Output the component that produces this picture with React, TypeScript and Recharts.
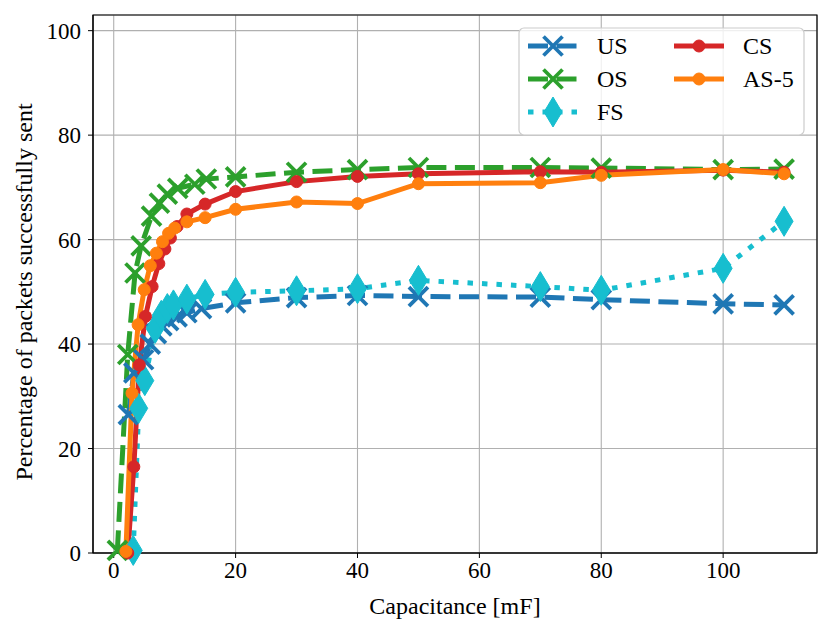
import { CartesianGrid, Line, LineChart, ReferenceArea, XAxis, YAxis } from "recharts";

const FONT = "Liberation Serif, serif";

const xTicks = [0, 20, 40, 60, 80, 100];
const yTicks = [0, 20, 40, 60, 80, 100];

// US
const usX = [2.4, 3.3, 4.9, 6, 7, 7.9, 9, 10.4, 12, 14.4, 20, 30, 40, 50, 70, 80, 100, 110];
const usY = [26.5, 34.5, 37, 40, 42, 43.5, 44.5, 45.2, 46, 46.8, 47.9, 48.9, 49.3, 49.1, 49.0, 48.5, 47.7, 47.5];

// OS
const osX = [0.6, 2.3, 3.5, 4.5, 6.2, 7.5, 8.8, 10.5, 13.3, 15.2, 20, 30, 40, 50, 70, 80, 100, 110];
const osY = [0.5, 38, 53.6, 58.8, 64.5, 67, 68.7, 69.8, 70.6, 71.6, 72, 72.9, 73.4, 73.8, 73.8, 73.7, 73.4, 73.5];

// FS
const fsX = [3.2, 4.1, 5.1, 6.8, 7.8, 8.8, 9.8, 12, 15, 20, 30, 40, 50, 70, 80, 100, 110];
const fsY = [0.5, 27.7, 33, 43, 45.5, 46.8, 47.5, 48.6, 49.5, 49.9, 50.2, 50.6, 52.2, 51.0, 50.3, 54.5, 63.5];

// CS
const csX = [2.3, 3.3, 4.2, 5.2, 6.3, 7.4, 8.4, 9.3, 10.4, 12, 15, 20, 30, 40, 50, 70, 80, 100, 110];
const csY = [0, 16.5, 36, 45.3, 51, 55.4, 58.2, 60.3, 62.5, 64.9, 66.8, 69.2, 71.1, 72.1, 72.6, 73.0, 72.9, 73.3, 72.9];

// AS-5
const asX = [2, 3, 4, 5, 6, 7, 8, 9, 10, 12, 15, 20, 30, 40, 50, 70, 80, 100, 110];
const asY = [0.3, 30.6, 43.7, 50.4, 55, 57.4, 59.6, 61.2, 62.2, 63.4, 64.2, 65.8, 67.2, 66.9, 70.7, 70.9, 72.3, 73.4, 72.6];

const toPoints = (xs: number[], ys: number[]) => xs.map((x, i) => ({ x, y: ys[i] }));

type MarkerKind = "x" | "d" | "o";

const XMark = ({ cx, cy, color }: { cx: number; cy: number; color: string }) => (
  <g>
    <line x1={cx - 9.5} y1={cy - 9.5} x2={cx + 9.5} y2={cy + 9.5} stroke={color} strokeWidth={3.8} />
    <line x1={cx - 9.5} y1={cy + 9.5} x2={cx + 9.5} y2={cy - 9.5} stroke={color} strokeWidth={3.8} />
  </g>
);

const Diamond = ({ cx, cy, color }: { cx: number; cy: number; color: string }) => (
  <polygon
    points={`${cx},${cy - 15} ${cx + 9},${cy} ${cx},${cy + 15} ${cx - 9},${cy}`}
    fill={color}
    stroke={color}
    strokeWidth={1}
  />
);

const Circle = ({ cx, cy, color }: { cx: number; cy: number; color: string }) => (
  <circle cx={cx} cy={cy} r={6} fill={color} stroke={color} strokeWidth={1} />
);

const Marker = ({ kind, cx, cy, color }: { kind: MarkerKind; cx: number; cy: number; color: string }) => {
  if (kind === "x") return <XMark cx={cx} cy={cy} color={color} />;
  if (kind === "d") return <Diamond cx={cx} cy={cy} color={color} />;
  return <Circle cx={cx} cy={cy} color={color} />;
};

const series = [
  { name: "US", color: "#1f77b4", dash: "20 8.5", marker: "x" as MarkerKind, data: toPoints(usX, usY) },
  { name: "OS", color: "#2ca02c", dash: "20 8.5", marker: "x" as MarkerKind, data: toPoints(osX, osY) },
  { name: "FS", color: "#17becf", dash: "5.5 9", marker: "d" as MarkerKind, data: toPoints(fsX, fsY) },
  { name: "CS", color: "#d62728", dash: undefined, marker: "o" as MarkerKind, data: toPoints(csX, csY) },
  { name: "AS-5", color: "#ff7f0e", dash: undefined, marker: "o" as MarkerKind, data: toPoints(asX, asY) },
];

const legendSlots = [
  { col: 0, row: 0 },
  { col: 0, row: 1 },
  { col: 0, row: 2 },
  { col: 1, row: 0 },
  { col: 1, row: 1 },
];

const tickStyle = { fontFamily: FONT, fontSize: 23, fill: "#000" };
const labelStyle = { fontFamily: FONT, fontSize: 24, fill: "#000" };

export default function App() {
  return (
    <div style={{ position: "relative", width: 823, height: 627, fontFamily: FONT }}>
      <LineChart width={823} height={627} margin={{ top: 7, right: 14, left: 0, bottom: 0 }}>
        <CartesianGrid stroke="#b0b0b0" strokeWidth={1.1} />
        <XAxis
          type="number"
          dataKey="x"
          domain={[-3.4, 115.4]}
          ticks={xTicks}
          height={82}
          tickSize={5}
          tickMargin={4}
          stroke="#000"
          tick={tickStyle}
          label={{
            value: "Capacitance [mF]",
            position: "insideBottom",
            offset: 21,
            style: labelStyle,
          }}
        />
        <YAxis
          type="number"
          domain={[0, 103]}
          ticks={yTicks}
          width={85}
          tickSize={5}
          tickMargin={7}
          stroke="#000"
          tick={tickStyle}
          label={{
            content: () => (
              <text
                x={16}
                y={284}
                transform="rotate(-90 16 284)"
                textAnchor="middle"
                dominantBaseline="central"
                style={labelStyle}
              >
                Percentage of packets successfully sent
              </text>
            ),
          }}
        />
        {series.map((s) => (
          <Line
            key={s.name}
            data={s.data}
            dataKey="y"
            type="linear"
            stroke={s.color}
            strokeWidth={5}
            strokeDasharray={s.dash}
            isAnimationActive={false}
            dot={(p: any) => (
              <Marker key={`${s.name}-${p.index}`} kind={s.marker} cx={p.cx} cy={p.cy} color={s.color} />
            )}
            activeDot={false}
          />
        ))}
        <ReferenceArea x1={-3.4} x2={115.4} y1={0} y2={103} stroke="#000" strokeWidth={1.2} fill="none" fillOpacity={0} />
      </LineChart>
      <svg style={{ position: "absolute", left: 510, top: 19 }} width={287} height={109}>
        <rect x={1} y={1} width={285} height={107} rx={5} fill="rgba(255,255,255,0.8)" stroke="#cccccc" strokeWidth={1.2} />
        {series.map((s, i) => {
          const slot = legendSlots[i];
          const x0 = slot.col === 0 ? 10 : 156;
          const y = 19 + slot.row * 33;
          return (
            <g key={s.name}>
              <line x1={x0} y1={y} x2={x0 + 50} y2={y} stroke={s.color} strokeWidth={5} strokeDasharray={s.dash} />
              <Marker kind={s.marker} cx={x0 + 25} cy={y} color={s.color} />
              <text x={x0 + 69} y={y} dominantBaseline="central" style={labelStyle}>
                {s.name}
              </text>
            </g>
          );
        })}
      </svg>
    </div>
  );
}
